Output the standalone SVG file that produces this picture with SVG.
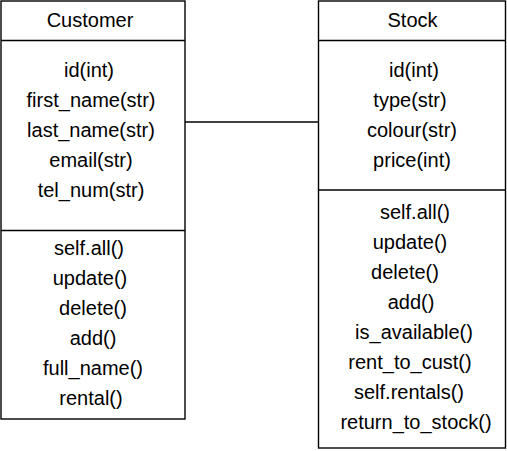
<svg xmlns="http://www.w3.org/2000/svg" width="507" height="451" viewBox="0 0 507 451">
  <style>
    .box { fill: #ffffff; stroke: #000000; stroke-width: 1.4; }
    .sep { stroke: #000000; stroke-width: 1.4; }
    .edge { stroke: #000000; stroke-width: 1.4; fill: none; }
    text { font-family: "Liberation Sans", Arial, Helvetica, sans-serif; font-size: 20px; fill: #000000; text-anchor: middle; }
  </style>
  <rect width="507" height="451" fill="#ffffff"/>

  <!-- association between the two classes -->
  <g id="connectors">
    <line class="edge" x1="185" y1="122" x2="318.5" y2="122"/>
  </g>

  <!-- Customer class -->
  <g id="customer">
    <rect class="box" x="1" y="1" width="184" height="418"/>
    <line class="sep" x1="1" y1="40.5" x2="185" y2="40.5"/>
    <line class="sep" x1="1" y1="230.5" x2="185" y2="230.5"/>
    <text x="90" y="27">Customer</text>
    <text x="89" y="77">id(int)</text>
    <text x="91" y="107">first_name(str)</text>
    <text x="91" y="137">last_name(str)</text>
    <text x="91" y="167">email(str)</text>
    <text x="91" y="197">tel_num(str)</text>
    <text x="89" y="255">self.all()</text>
    <text x="90" y="285">update()</text>
    <text x="93" y="315">delete()</text>
    <text x="93" y="345">add()</text>
    <text x="93" y="375">full_name()</text>
    <text x="91" y="405">rental()</text>
  </g>

  <!-- Stock class -->
  <g id="stock">
    <rect class="box" x="318.5" y="1" width="187" height="447"/>
    <line class="sep" x1="318.5" y1="40.5" x2="505.5" y2="40.5"/>
    <line class="sep" x1="318.5" y1="190" x2="505.5" y2="190"/>
    <text x="412.5" y="27">Stock</text>
    <text x="414" y="77">id(int)</text>
    <text x="410" y="107">type(str)</text>
    <text x="412" y="137">colour(str)</text>
    <text x="412" y="167">price(int)</text>
    <text x="415" y="219">self.all()</text>
    <text x="410" y="249">update()</text>
    <text x="405" y="279">delete()</text>
    <text x="411" y="309">add()</text>
    <text x="414" y="339">is_available()</text>
    <text x="410" y="369">rent_to_cust()</text>
    <text x="409" y="399">self.rentals()</text>
    <text x="416" y="429">return_to_stock()</text>
  </g>
</svg>
